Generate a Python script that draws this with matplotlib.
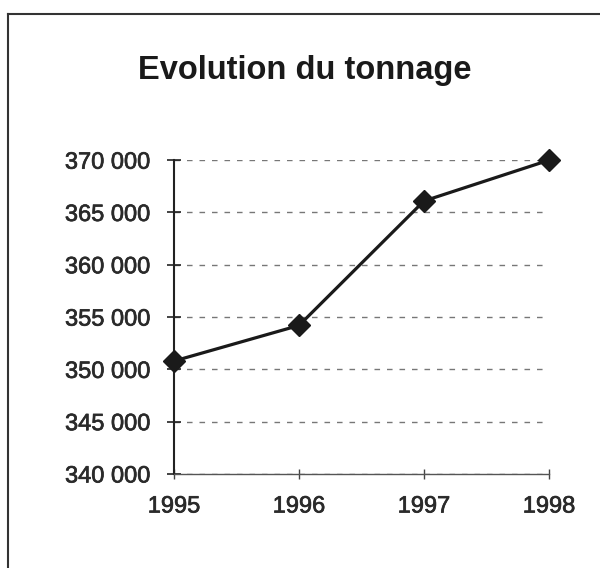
import numpy as np
import matplotlib.pyplot as plt
import matplotlib.patheffects as pe
from matplotlib.ticker import FuncFormatter
from matplotlib.lines import Line2D

plt.rcParams.update({
    'font.family': ['Liberation Sans', 'DejaVu Sans'],
    'font.size': 17,
})

years = [1995, 1996, 1997, 1998]
tonnage = [350800, 354200, 366100, 370000]
yticks = [340000, 345000, 350000, 355000, 360000, 365000, 370000]

fig = plt.figure(figsize=(6, 5.68), dpi=100)
ax = fig.add_axes([0.29, 0.1655, 0.625, 0.5525])

ax.plot(years, tonnage, color='#1a1a1a', lw=2.3, marker='D', ms=11,
        mfc='#1a1a1a', mec='#1a1a1a', zorder=5, clip_on=False)

ax.set_xlim(1995, 1998)
ax.set_ylim(340000, 370000)
ax.set_xticks(years)
ax.set_yticks(yticks)
ax.yaxis.set_major_formatter(FuncFormatter(lambda v, p: f'{int(v):,}'.replace(',', ' ')))

ax.grid(axis='y', linestyle=(0, (4, 5)), color='#777777', lw=1.0)
ax.grid(axis='x', visible=False)
ax.set_axisbelow(True)

for s in ['top', 'right']:
    ax.spines[s].set_visible(False)
ax.spines['left'].set_color('#222222')
ax.spines['left'].set_linewidth(1.5)
ax.spines['bottom'].set_color('#555555')
ax.spines['bottom'].set_linewidth(1.0)
ax.tick_params(axis='y', direction='inout', length=10, width=1.2, colors='#222222', pad=12)
ax.tick_params(axis='x', direction='inout', length=7, width=1.0, colors='#444444', pad=12)
ink = [pe.withStroke(linewidth=0.5, foreground='#2a2a2a')]
for lab in ax.get_xticklabels() + ax.get_yticklabels():
    lab.set_color('#2a2a2a')
    lab.set_path_effects(ink)

fig.text(305/600, 1 - 79/568, 'Evolution du tonnage', ha='center', va='baseline',
         fontsize=23.5, fontweight='bold', color='#1a1a1a')

# scanned frame border
fig.add_artist(Line2D([8/600, 8/600], [0, 1 - 14/568], transform=fig.transFigure,
                      color='#333333', lw=1.5))
fig.add_artist(Line2D([8/600, 1], [1 - 14/568, 1 - 14/568], transform=fig.transFigure,
                      color='#333333', lw=1.5))

fig.savefig('out.png', dpi=100)
